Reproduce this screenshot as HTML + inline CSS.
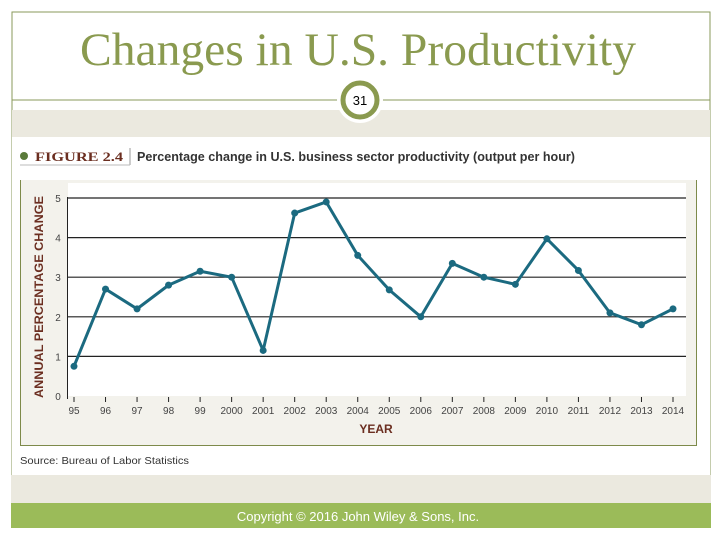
<!DOCTYPE html>
<html><head><meta charset="utf-8"><style>
html,body{margin:0;padding:0;background:#fff;}
svg{display:block;}
</style></head><body>
<svg width="720" height="540" viewBox="0 0 720 540" xmlns="http://www.w3.org/2000/svg">
  <rect x="12" y="12" width="698" height="515" fill="none" stroke="#8a9a5b" stroke-width="1"/>
  <text x="358" y="65" text-anchor="middle" font-family="Liberation Serif, serif" font-size="47" fill="#8a9a4f" textLength="556" lengthAdjust="spacingAndGlyphs">Changes in U.S. Productivity</text>
  <line x1="12" y1="100" x2="710" y2="100" stroke="#8a9a5b" stroke-width="1"/>
  <rect x="12" y="110" width="698" height="27" fill="#ebe9df"/>
  <rect x="12" y="137" width="698" height="338" fill="#fff"/>
  <circle cx="360" cy="100" r="23" fill="#fff"/>
  <circle cx="360" cy="100" r="17" fill="#fff" stroke="#8a9a4f" stroke-width="5"/>
  <text x="360" y="105" text-anchor="middle" font-family="Liberation Sans, sans-serif" font-size="13" fill="#000">31</text>

  <circle cx="24" cy="156" r="4" fill="#5a7a3a"/>
  <text x="35" y="161" font-family="Liberation Serif, serif" font-weight="bold" font-size="13" fill="#6b2e20" textLength="88" lengthAdjust="spacingAndGlyphs">FIGURE 2.4</text>
  <line x1="130" y1="148" x2="130" y2="165" stroke="#999" stroke-width="1"/>
  <line x1="20" y1="165" x2="130" y2="165" stroke="#bbb" stroke-width="1"/>
  <text x="137" y="161" font-family="Liberation Sans, sans-serif" font-size="12.5" font-weight="bold" fill="#333" textLength="438" lengthAdjust="spacingAndGlyphs">Percentage change in U.S. business sector productivity (output per hour)</text>

  <rect x="20" y="180" width="677" height="266" fill="#f3f2ec"/>
  <path d="M20.5 180 V445.5 H696.5 V180" fill="none" stroke="#7d8a4a" stroke-width="1"/>
  <rect x="68" y="183" width="618" height="213" fill="#fff"/>
  <g id="chart"></g>
  <text transform="translate(43,297) rotate(-90)" text-anchor="middle" font-family="Liberation Sans, sans-serif" font-weight="bold" font-size="11.5" fill="#6b2e20" textLength="202" lengthAdjust="spacingAndGlyphs">ANNUAL PERCENTAGE CHANGE</text>
  <text x="376" y="433" text-anchor="middle" font-family="Liberation Sans, sans-serif" font-weight="bold" font-size="12" fill="#6b2e20">YEAR</text>
  <text x="20" y="464" font-family="Liberation Sans, sans-serif" font-size="10.5" fill="#333" textLength="169" lengthAdjust="spacingAndGlyphs">Source: Bureau of Labor Statistics</text>

  <rect x="11" y="475" width="700" height="28" fill="#ebe9df"/>
  <rect x="11" y="503" width="700" height="25" fill="#9bbb59"/>
  <text x="358" y="521" text-anchor="middle" font-family="Liberation Sans, sans-serif" font-size="13" fill="#fff">Copyright © 2016 John Wiley &amp; Sons, Inc.</text>
</svg>
<script>
const categories = ["95","96","97","98","99","2000","2001","2002","2003","2004","2005","2006","2007","2008","2009","2010","2011","2012","2013","2014"];
const productivity = [0.75,2.7,2.2,2.8,3.15,3.0,1.15,4.62,4.9,3.55,2.68,2.0,3.35,3.0,2.82,3.97,3.17,2.1,1.8,2.2];
const yTicks = [0,1,2,3,4,5];
const yTickLabels = ["0","1","2","3","4","5"];

const NS = "http://www.w3.org/2000/svg";
const g = document.getElementById('chart');
const x0 = 74, x1 = 673, yBase = 396, yTop = 198, yMax = 5;
function xScale(i){ return x0 + i*(x1-x0)/(categories.length-1); }
function yScale(v){ return yBase - v*(yBase-yTop)/yMax; }
function mk(tag, attrs){ const e=document.createElementNS(NS,tag); for(const k in attrs) e.setAttribute(k,attrs[k]); g.appendChild(e); return e; }

yTicks.forEach((t,i)=>{
  if(t>0){
    const l = mk('line',{x1:67,x2:686,y1:yScale(t),y2:yScale(t),stroke:'#222','stroke-width':1.2});
    
    
  }
  const tx = mk('text',{x:58,y:yScale(t)+4,'text-anchor':'middle','font-family':'Liberation Sans, sans-serif','font-size':10,fill:'#444'});
  tx.textContent = yTickLabels[i];
  
  
});
const ax = mk('line',{x1:67.5,x2:67.5,y1:yTop-1,y2:yBase+3,stroke:'#222','stroke-width':1});



categories.forEach((c,i)=>{
  const tk = mk('line',{x1:xScale(i),x2:xScale(i),y1:yBase+1,y2:yBase+6,stroke:'#222','stroke-width':1});
  
  
  const tx = mk('text',{x:xScale(i),y:yBase+18,'text-anchor':'middle','font-family':'Liberation Sans, sans-serif','font-size':10,fill:'#444'});
  tx.textContent = c;
  
  
});

const pts = productivity.map((v,i)=>xScale(i)+','+yScale(v)).join(' ');
const line = mk('polyline',{points:pts,fill:'none',stroke:'#1b6a80','stroke-width':3,'stroke-linejoin':'round'});


productivity.forEach((v,i)=>{
  const p = mk('circle',{cx:xScale(i),cy:yScale(v),r:3.5,fill:'#1b6a80'});
  
  
});
</script>
</body></html>
